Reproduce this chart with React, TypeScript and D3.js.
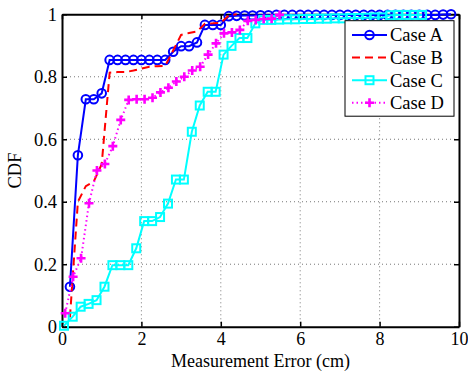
import * as d3 from 'd3';
import React, { useEffect, useRef } from 'react';

// x positions (cm) and CDF values
const caseAX = [0.2, 0.4, 0.6, 0.8, 1.0, 1.2, 1.4, 1.6, 1.8, 2.0, 2.2, 2.4, 2.6, 2.8, 3.0, 3.2, 3.4, 3.6, 3.8, 4.0,
  4.2, 4.4, 4.6, 4.8, 5.0, 5.2, 5.4, 5.6, 5.8, 6.0, 6.2, 6.4, 6.6, 6.8, 7.0, 7.2, 7.4, 7.6, 7.8, 8.0,
  8.2, 8.4, 8.6, 8.8, 9.0, 9.2, 9.4, 9.6, 9.8];
const caseAY = [0.128, 0.549, 0.728, 0.728, 0.747, 0.854, 0.854, 0.854, 0.854, 0.854, 0.854, 0.854, 0.854, 0.88, 0.898, 0.898, 0.91, 0.966, 0.966, 0.966,
  0.994, 0.995, 0.996, 0.996, 0.997, 0.997, 0.998, 0.998, 0.998, 0.998, 0.998, 0.998, 0.998, 0.998, 0.998, 0.998, 0.998, 0.998, 0.998, 0.998,
  0.998, 0.998, 0.998, 0.998, 0.998, 0.998, 0.998, 0.999, 1.0];

const caseBX = [0.2, 0.4, 0.6, 0.8, 1.0, 1.2, 1.4, 1.6, 1.8, 2.0, 2.2, 2.4, 2.6, 2.8, 3.0, 3.2, 3.4, 3.6, 3.8, 4.0, 4.2, 4.4];
const caseBY = [0.03, 0.4, 0.45, 0.465, 0.52, 0.813, 0.815, 0.815, 0.82, 0.826, 0.832, 0.834, 0.835, 0.884, 0.934, 0.94, 0.945, 0.97, 0.971, 0.973, 0.996, 1.0];

const caseCX = [0.05, 0.27, 0.47, 0.67, 0.87, 1.07, 1.27, 1.47, 1.67, 1.87, 2.07, 2.27, 2.47, 2.67, 2.87, 3.07, 3.27, 3.47, 3.67, 3.87,
  4.07, 4.27, 4.47, 4.67, 4.87, 5.07, 5.27, 5.47, 5.67, 5.87, 6.07, 6.27, 6.47, 6.67, 6.87, 7.07, 7.27, 7.47, 7.67, 7.87,
  8.07, 8.27, 8.47, 8.67, 8.87, 9.07];
const caseCY = [0.003, 0.032, 0.064, 0.073, 0.085, 0.128, 0.197, 0.197, 0.197, 0.251, 0.338, 0.338, 0.351, 0.394, 0.471, 0.471, 0.624, 0.708, 0.752, 0.752,
  0.871, 0.899, 0.924, 0.924, 0.971, 0.982, 0.982, 0.983, 0.984, 0.984, 0.985, 0.985, 0.986, 0.986, 0.987, 0.987, 0.988, 0.988, 0.989, 0.99,
  0.99, 0.997, 0.998, 0.998, 0.998, 0.998];

const caseDX = [0.08, 0.28, 0.48, 0.68, 0.88, 1.08, 1.28, 1.48, 1.68, 1.88, 2.08, 2.28, 2.48, 2.68, 2.88, 3.08, 3.28, 3.48, 3.68, 3.88,
  4.08, 4.28, 4.48, 4.68, 4.88, 5.08, 5.28, 5.48];
const caseDY = [0.043, 0.16, 0.219, 0.395, 0.5, 0.521, 0.578, 0.662, 0.726, 0.728, 0.728, 0.733, 0.75, 0.765, 0.785, 0.8, 0.82, 0.832, 0.871, 0.907,
  0.939, 0.942, 0.95, 0.979, 0.982, 0.985, 0.986, 0.998];

const seriesNames = ['Case A', 'Case B', 'Case C', 'Case D'];
const xTicks = [0, 2, 4, 6, 8, 10];
const yTicks = [0, 0.2, 0.4, 0.6, 0.8, 1];

const FONT = '"Liberation Serif", "Times New Roman", serif';

export default function App() {
  const svgRef = useRef<SVGSVGElement>(null);
  const width = 468;
  const height = 371;
  const margin = { top: 14.3, right: 9, bottom: 44.3, left: 62 };

  useEffect(() => {
    const svg = d3.select(svgRef.current);
    svg.selectAll('*').remove();

    const plotWidth = width - margin.left - margin.right;
    const plotHeight = height - margin.top - margin.bottom;

    const x = d3.scaleLinear().domain([0, 10]).range([0, plotWidth]);
    const y = d3.scaleLinear().domain([0, 1]).range([plotHeight, 0]);

    const g = svg.append('g').attr('transform', `translate(${margin.left},${margin.top})`);

    // dotted grid
    g.append('g')
      .selectAll('line.vgrid')
      .data(xTicks.slice(1, -1))
      .enter()
      .append('line')
      .attr('x1', (d) => x(d))
      .attr('x2', (d) => x(d))
      .attr('y1', 0)
      .attr('y2', plotHeight)
      .attr('stroke', '#777')
      .attr('stroke-width', 1)
      .attr('stroke-dasharray', '1,3');
    g.append('g')
      .selectAll('line.hgrid')
      .data(yTicks.slice(1, -1))
      .enter()
      .append('line')
      .attr('x1', 0)
      .attr('x2', plotWidth)
      .attr('y1', (d) => y(d))
      .attr('y2', (d) => y(d))
      .attr('stroke', '#777')
      .attr('stroke-width', 1)
      .attr('stroke-dasharray', '1,3');

    // axes, ticks pointing inward
    const xAxis = g.append('g')
      .attr('transform', `translate(0,${plotHeight})`)
      .call(d3.axisBottom(x).tickValues(xTicks).tickSizeInner(-5).tickSizeOuter(0).tickPadding(6).tickFormat(d3.format('d')));
    const yAxis = g.append('g')
      .call(d3.axisLeft(y).tickValues(yTicks).tickSizeInner(-5).tickSizeOuter(0).tickPadding(5).tickFormat((d) => String(d)));
    g.append('g')
      .call(d3.axisTop(x).tickValues(xTicks).tickSizeInner(-5).tickSizeOuter(0).tickFormat(() => ''));
    g.append('g')
      .attr('transform', `translate(${plotWidth},0)`)
      .call(d3.axisRight(y).tickValues(yTicks).tickSizeInner(-5).tickSizeOuter(0).tickFormat(() => ''));

    g.selectAll('.domain').attr('stroke', '#000').attr('stroke-width', 2);
    g.selectAll('.tick line').attr('stroke', '#000').attr('stroke-width', 1.5);
    xAxis.selectAll('text').style('font-family', FONT).style('font-size', '18px').attr('fill', '#000');
    yAxis.selectAll('text').style('font-family', FONT).style('font-size', '18.5px').attr('fill', '#000');

    // axis titles
    svg.append('text')
      .attr('x', margin.left + plotWidth / 2)
      .attr('y', 366.5)
      .attr('text-anchor', 'middle')
      .style('font-family', FONT)
      .style('font-size', '18px')
      .text('Measurement Error (cm)');
    svg.append('text')
      .attr('transform', `translate(21,${margin.top + plotHeight / 2}) rotate(-90)`)
      .attr('text-anchor', 'middle')
      .style('font-family', FONT)
      .style('font-size', '18.5px')
      .text('CDF');

    const line = d3.line<[number, number]>()
      .x((d) => x(d[0]))
      .y((d) => y(d[1]));

    const pairs = (xs: number[], ys: number[]) => xs.map((v, i) => [v, ys[i]] as [number, number]);

    const series = [
      { name: seriesNames[0], data: pairs(caseAX, caseAY), color: '#0000ff', dash: null, marker: 'circle' },
      { name: seriesNames[1], data: pairs(caseBX, caseBY), color: '#ff0000', dash: '8,5', marker: null },
      { name: seriesNames[2], data: pairs(caseCX, caseCY), color: '#00ffff', dash: null, marker: 'square' },
      { name: seriesNames[3], data: pairs(caseDX, caseDY), color: '#ff00ff', dash: '1.5,3', marker: 'plus' },
    ];

    const drawMarker = (sel: any, kind: string | null, color: string, cx: number, cy: number) => {
      if (kind === 'circle') {
        sel.append('circle').attr('cx', cx).attr('cy', cy).attr('r', 4.3)
          .attr('fill', 'none').attr('stroke', color).attr('stroke-width', 2);
      } else if (kind === 'square') {
        sel.append('rect').attr('x', cx - 4).attr('y', cy - 4).attr('width', 8).attr('height', 8)
          .attr('fill', 'none').attr('stroke', color).attr('stroke-width', 2);
      } else if (kind === 'plus') {
        sel.append('path').attr('d', `M${cx - 4.5},${cy}H${cx + 4.5}M${cx},${cy - 4.5}V${cy + 4.5}`)
          .attr('stroke', color).attr('stroke-width', 2.6).attr('fill', 'none');
      }
    };

    series.forEach((s) => {
      const sg = g.append('g');
      sg.append('path')
        .datum(s.data)
        .attr('d', line)
        .attr('fill', 'none')
        .attr('stroke', s.color)
        .attr('stroke-width', 2)
        .attr('stroke-dasharray', s.dash);
      s.data.forEach((d) => drawMarker(sg, s.marker, s.color, x(d[0]), y(d[1])));
    });

    // legend
    const lg = svg.append('g');
    lg.append('rect')
      .attr('x', 345).attr('y', 20.7).attr('width', 109).attr('height', 95.5)
      .attr('fill', '#fff').attr('stroke', '#000').attr('stroke-width', 1);
    series.forEach((s, i) => {
      const ly = 35 + i * 22.6;
      lg.append('line')
        .attr('x1', 352).attr('x2', 387).attr('y1', ly).attr('y2', ly)
        .attr('stroke', s.color).attr('stroke-width', 2)
        .attr('stroke-dasharray', s.dash);
      drawMarker(lg, s.marker, s.color, 369.5, ly);
      lg.append('text')
        .attr('x', 390).attr('y', ly).attr('dy', '0.35em')
        .style('font-family', FONT).style('font-size', '18.5px')
        .text(s.name);
    });
  }, []);

  return (
    <svg ref={svgRef} width={width} height={height} style={{ position: 'absolute', left: 0, top: 0, background: '#fff' }} />
  );
}
